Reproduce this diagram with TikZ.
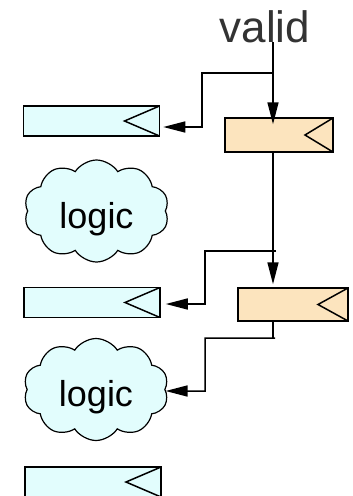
\documentclass[tikz,border=0pt]{standalone}
\usepackage{fontspec}
\setmainfont{Liberation Sans}
\usetikzlibrary{arrows.meta,shapes.symbols}
\definecolor{regblue}{HTML}{E2FDFD}
\definecolor{regorange}{HTML}{FCE4BE}
\definecolor{txtgray}{HTML}{333333}
\begin{document}
\begin{tikzpicture}[x=1pt,y=-1pt,line width=1.5pt,>={Triangle[length=22pt,width=11pt]}]
\tikzset{reg/.style={draw,rectangle,inner sep=0pt,minimum width=136pt,minimum height=30pt,fill=regblue,
    path picture={\draw (path picture bounding box.north east)--([xshift=-#1]path picture bounding box.east)--(path picture bounding box.south east);}},
  reg/.default=35pt,
  pipe/.style={reg=#1,fill=regorange,minimum width=108pt,minimum height=34pt},
  pipe/.default=28pt,
  logic/.style={draw,cloud,cloud puffs=10,cloud puff arc=115,cloud ignores aspect,fill=regblue,minimum width=145pt,minimum height=102pt,
    inner sep=0pt,text height=34pt,text depth=0pt,font=\fontsize{36}{36}\selectfont,line width=1.2pt}}
\useasboundingbox (0,0) rectangle (353,496);
\node[anchor=base,text=txtgray,font=\fontsize{44}{44}\selectfont] (valid) at (265,42) {valid};
\node[reg] (b1) at (91.5,121) {};
\node[pipe] (p1) at (279,135) {};
\node[logic] (c1) at (96.5,211) {logic};
\node[reg] (b2) at (92,302.5) {};
\node[pipe=30pt,minimum width=110pt,minimum height=33pt] (p2) at (293,304.5) {};
\node[logic] (c2) at (96,389.5) {logic};
\node[reg] (b3) at (93,482) {};
\coordinate (t1) at (273,73);
\coordinate (t2) at (273,251);
\coordinate (t3) at (273,338);
\draw[->] (t1 |- valid.base) -- ([yshift=-7pt]p1.north -| t1);
\draw[->] (t1) -| ++(-71,54) -- ([xshift=3pt,yshift=-6pt]b1.east);
\draw[->] (p1.south -| t2) -- ([yshift=3pt]p2.north -| t2);
\draw[->] ([xshift=3pt]t2) -| ++(-71,53) -- ([xshift=5pt,yshift=-1.5pt]b2.east);
\draw (p2.south -| t3) -- (t3);
\draw[->] ([xshift=2pt]t3) -| ++(-70,53) -- ([yshift=-1.5pt]c2.east);
\end{tikzpicture}
\end{document}
